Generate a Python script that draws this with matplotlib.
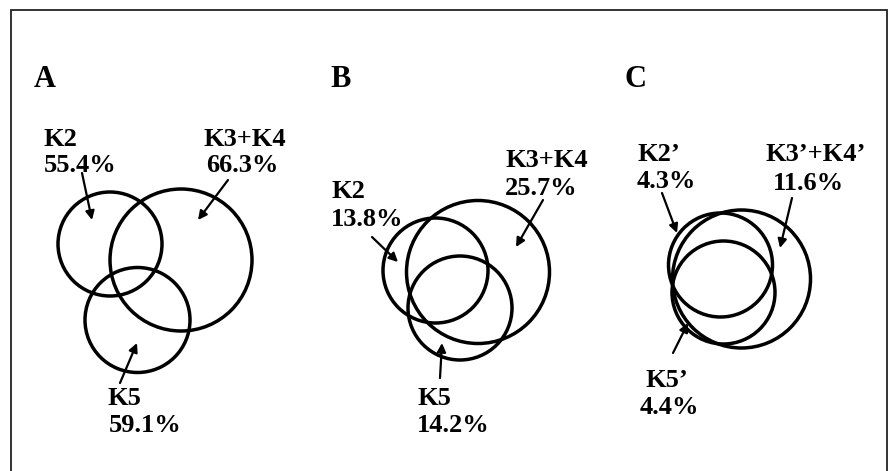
import numpy as np
import matplotlib.pyplot as plt
from matplotlib.patches import Circle

# data
panels = ['A', 'B', 'C']
names = [['K2', 'K3+K4', 'K5'],
         ['K2', 'K3+K4', 'K5'],
         ['K2\u2019', 'K3\u2019+K4\u2019', 'K5\u2019']]
percents = [[55.4, 66.3, 59.1],
            [13.8, 25.7, 14.2],
            [4.3, 11.6, 4.4]]

# layout in pixels (x, y, r) per panel: K2, K3+K4, K5
circles = [[(110, 244, 52), (181, 260, 71), (137.5, 320, 52.5)],
           [(435.5, 270.5, 52.5), (478, 272, 71.5), (460, 308, 52)],
           [(720.5, 265, 52), (741.5, 279, 69), (723.5, 292.5, 51.5)]]
# text: (x name, baseline name, x pct, baseline pct)
text_pos = [[(44, 146, 44, 172), (204, 146, 206, 172), (107, 405, 109, 432)],
            [(331, 198, 331, 226), (506, 167, 505, 195), (417, 405, 417, 432)],
            [(637, 161, 637, 188), (765, 161, 773, 190), (645, 387, 640, 414)]]
# arrows: (tail x, tail y, head x, head y)
arrows = [[(82, 173, 92, 220), (228, 180, 198, 220), (120, 383, 137, 343)],
          [(372, 237, 398, 262), (543, 200, 516, 247), (440, 378, 442, 343)],
          [(662, 193, 677, 233), (792, 198, 780, 248), (673, 353, 688, 323)]]
letter_pos = [(34, 87), (330, 87), (625, 87)]

W, H = 889, 471
fig = plt.figure(figsize=(W / 100, H / 100), dpi=100)
ax = fig.add_axes([0, 0, 1, 1])
ax.set_xlim(0, W)
ax.set_ylim(H, 0)
ax.set_aspect('equal')
ax.axis('off')

font = dict(family='Liberation Serif', weight='bold', color='black')

# frame (no bottom edge visible)
ax.plot([11, 11, 887, 887], [H + 5, 10, 10, H + 5], color='#222222', lw=1.3,
        solid_joinstyle='miter')

for p in range(3):
    lx, ly = letter_pos[p]
    ax.text(lx, ly, panels[p], fontsize=22, va='baseline', ha='left', **font)
    for k in range(3):
        cx, cy, r = circles[p][k]
        ax.add_patch(Circle((cx, cy), r, fill=False, lw=2.5, ec='black'))
        x1, y1, x2, y2 = text_pos[p][k]
        ax.text(x1, y1, names[p][k], fontsize=19, va='baseline', ha='left', **font)
        ax.text(x2, y2, '%.1f%%' % percents[p][k], fontsize=19, va='baseline',
                ha='left', **font)
        tx, ty, hx, hy = arrows[p][k]
        ax.annotate('', xy=(hx, hy), xytext=(tx, ty),
                    arrowprops=dict(arrowstyle='-|>', lw=1.6, color='black',
                                    mutation_scale=13, shrinkA=0, shrinkB=0))

fig.savefig('out.png', dpi=100)
